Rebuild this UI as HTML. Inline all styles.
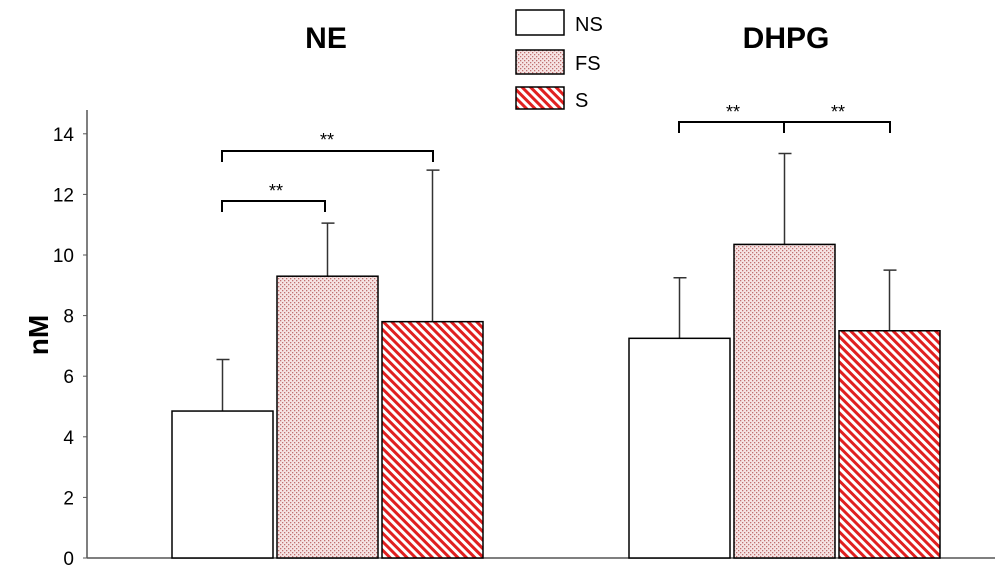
<!DOCTYPE html>
<html><head><meta charset="utf-8"><style>
body{margin:0;background:#fff}
svg{display:block;font-family:"Liberation Sans",Arial,sans-serif}
</style></head><body>
<svg id="chart" width="1000" height="577" viewBox="0 0 1000 577">
<defs>
<pattern id="dots" width="4" height="4" patternUnits="userSpaceOnUse"><rect width="4" height="4" fill="#f6e4e4"/><rect x="0" y="0" width="1.3" height="1.3" fill="#c07070"/><rect x="2" y="2" width="1.3" height="1.3" fill="#c07070"/></pattern>
<pattern id="hatch" width="6" height="6" patternUnits="userSpaceOnUse" patternTransform="rotate(-45)"><rect width="6" height="6" fill="#fff"/><rect width="3" height="6" fill="#e02020"/></pattern>
</defs>
<g id="axes"></g><g id="bars"></g>
<text x="326" y="48" font-size="30" font-weight="bold" text-anchor="middle">NE</text>
<text x="786" y="48" font-size="30" font-weight="bold" text-anchor="middle">DHPG</text>
<text transform="translate(48,335) rotate(-90)" font-size="28" font-weight="bold" text-anchor="middle">nM</text>
<g>
<rect x="516" y="10" width="48" height="25" fill="#fff" stroke="#000" stroke-width="1.5"/>
<text x="575" y="31" font-size="20">NS</text>
<rect x="516" y="50" width="48" height="24" fill="url(#dots)" stroke="#000" stroke-width="1.5"/>
<text x="575" y="70" font-size="20">FS</text>
<rect x="516" y="87" width="48" height="22" fill="url(#hatch)" stroke="#000" stroke-width="1.5"/>
<text x="575" y="107" font-size="20">S</text>
</g>
<g id="sig" stroke="#000" stroke-width="2" fill="none">
<path d="M222,212 V201 H325 V212"/>
<path d="M222,162 V151 H433 V162"/>
<path d="M679,133 V122 H890 V133 M784,122 V133"/>
</g>
<g font-size="18" text-anchor="middle">
<text x="276" y="197">**</text>
<text x="327" y="146">**</text>
<text x="733" y="118">**</text>
<text x="838" y="118">**</text>
</g>
</svg>
<script>
const groups=["NE","DHPG"];
const seriesNames=["NS","FS","S"];
const meansNE=[4.85,9.3,7.8];
const meansDHPG=[7.25,10.35,7.5];
const errNE=[1.7,1.75,5.0];
const errDHPG=[2.0,3.0,2.0];
const yTicks=[0,2,4,6,8,10,12,14];
const fills=["#fff","url(#dots)","url(#hatch)"];
const NS="http://www.w3.org/2000/svg";
const y=v=>558-v*30.3;
const groupStart=[172,629], barW=101, step=105;
const ax=document.getElementById('axes'), bars=document.getElementById('bars');
function el(t,a,p){const e=document.createElementNS(NS,t);for(const k in a)e.setAttribute(k,a[k]);p.appendChild(e);return e;}
const axl=el('line',{x1:87,y1:110,x2:87,y2:558,stroke:'#555','stroke-width':1.5},ax);


const bl=el('line',{x1:87,y1:558,x2:995,y2:558,stroke:'#555','stroke-width':1.5},ax);


yTicks.forEach(t=>{
 const l=el('line',{x1:83,x2:87,y1:y(t),y2:y(t),stroke:'#555'},ax);
 
 
 const tx=el('text',{x:74,y:y(t)+7,'font-size':19,'text-anchor':'end'},ax);tx.textContent=t;
 
 
});
[meansNE,meansDHPG].forEach((m,g)=>{
 const e=g?errDHPG:errNE;
 m.forEach((v,i)=>{
  const x=groupStart[g]+i*step;
  const cx=x+barW/2;
  const p=el('path',{d:`M${cx},${y(v)} V${y(v+e[i])} M${cx-6},${y(v+e[i])} H${cx+7}`,stroke:'#333','stroke-width':1.5,fill:'none'},bars);
  
  
  const r=el('rect',{x:x,y:y(v),width:barW,height:y(0)-y(v),fill:fills[i],stroke:'#000','stroke-width':1.5},bars);
  
  
 });
});
</script>
</body></html>
